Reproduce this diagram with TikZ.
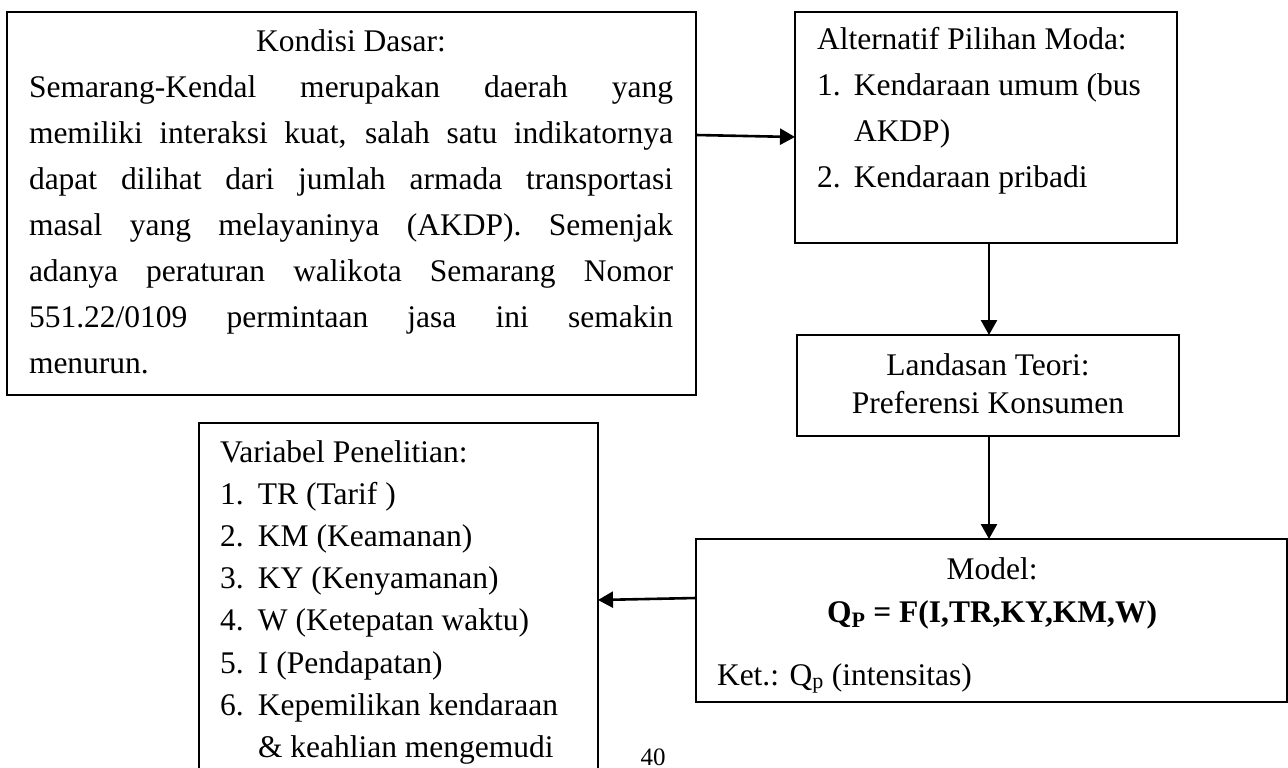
\documentclass[tikz,border=0pt]{standalone}
\usepackage{fontspec}
\setmainfont{Liberation Serif}
\usetikzlibrary{arrows.meta}
\tikzset{
 box/.style={draw, line width=2.2pt, inner sep=0pt, outer sep=0pt, anchor=north west},
 txt/.style={inner sep=0pt, outer sep=0pt, anchor=base west},
 ctxt/.style={inner sep=0pt, outer sep=0pt, anchor=base},
 arr/.style={line width=2.6pt, -{Triangle[length=15pt,width=16pt]}},
}
\newcommand{\bodyfont}{\fontsize{31.5pt}{46pt}\selectfont}
\newcommand{\numbox}[1]{\makebox[37pt][l]{#1}}
\begin{document}
\begin{tikzpicture}[x=1pt,y=-1pt]
\useasboundingbox (0,0) rectangle (1288,768);
\clip (0,0) rectangle (1288,768);
\fill[white] (0,0) rectangle (1288,768);

% boxes
\node[box, minimum width=689pt, minimum height=383pt] (b1) at (7,12) {};
\node[box, minimum width=382pt, minimum height=231pt] (b2) at (795,12) {};
\node[box, minimum width=382pt, minimum height=101pt] (b4) at (797,335) {};
\node[box, minimum width=591pt, minimum height=163pt] (b5) at (696,539) {};
\node[box, minimum width=399pt, minimum height=380pt] (b6) at (199,423) {};

% box 1 text
\node[txt] (t1) at (29,52) {\parbox[t]{644pt}{\bodyfont\centering Kondisi Dasar:\\
\makebox[644pt][s]{Semarang-Kendal merupakan daerah yang}\\
\makebox[644pt][s]{memiliki interaksi kuat, salah satu indikatornya}\\
\makebox[644pt][s]{dapat dilihat dari jumlah armada transportasi}\\
\makebox[644pt][s]{masal yang melayaninya (AKDP). Semenjak}\\
\makebox[644pt][s]{adanya peraturan walikota Semarang Nomor}\\
\makebox[644pt][s]{551.22/0109 permintaan jasa ini semakin}\\
\makebox[644pt][l]{menurun.}}};

% box 2 text
\node[txt] (t2) at (817,50) {\parbox[t]{350pt}{\bodyfont Alternatif Pilihan Moda:\\
\numbox{1.}Kendaraan umum (bus\\
\hspace*{37pt}AKDP)\\
\numbox{2.}Kendaraan pribadi}};

% box 4 text
\node[ctxt] (t4a) at (988,375) {\bodyfont Landasan Teori:};
\node[ctxt] (t4b) at (988,413) {\bodyfont Preferensi Konsumen};

% box 5 text
\node[ctxt] (t5a) at (992,579) {\bodyfont Model:};
\node[ctxt] (t5b) at (992,622) {\bodyfont\bfseries Q\textsubscript{P} = F(I,TR,KY,KM,W)};
\node[txt] (t5c) at (717,685) {\bodyfont Ket.: Q\textsubscript{p} (intensitas)};

% box 6 text
\node[txt] (t6) at (220,462) {\parbox[t]{400pt}{\fontsize{31.5pt}{42.2pt}\selectfont Variabel Penelitian:\\
\makebox[38pt][l]{1.}TR (Tarif )\\
\makebox[38pt][l]{2.}KM (Keamanan)\\
\makebox[38pt][l]{3.}KY (Kenyamanan)\\
\makebox[38pt][l]{4.}W (Ketepatan waktu)\\
\makebox[38pt][l]{5.}I (Pendapatan)\\
\makebox[38pt][l]{6.}Kepemilikan kendaraan\\
\hspace*{38pt}\& keahlian mengemudi}};

% page number
\node[ctxt] (pg) at (653,765) {\fontsize{25pt}{30pt}\selectfont 40};

% connectors
\draw[arr] ([yshift=-123pt]b1.north east) -- ([yshift=-125pt]b2.north west);
\draw[arr] ([xshift=3pt]b2.south) -- ([xshift=1pt]b4.north);
\draw[arr] ([xshift=1pt]b4.south) -- ([xshift=-2.5pt]b5.north);
\draw[arr] ([yshift=22.5pt]b5.west) -- ([yshift=-177pt]b6.north east);
\end{tikzpicture}
\end{document}
